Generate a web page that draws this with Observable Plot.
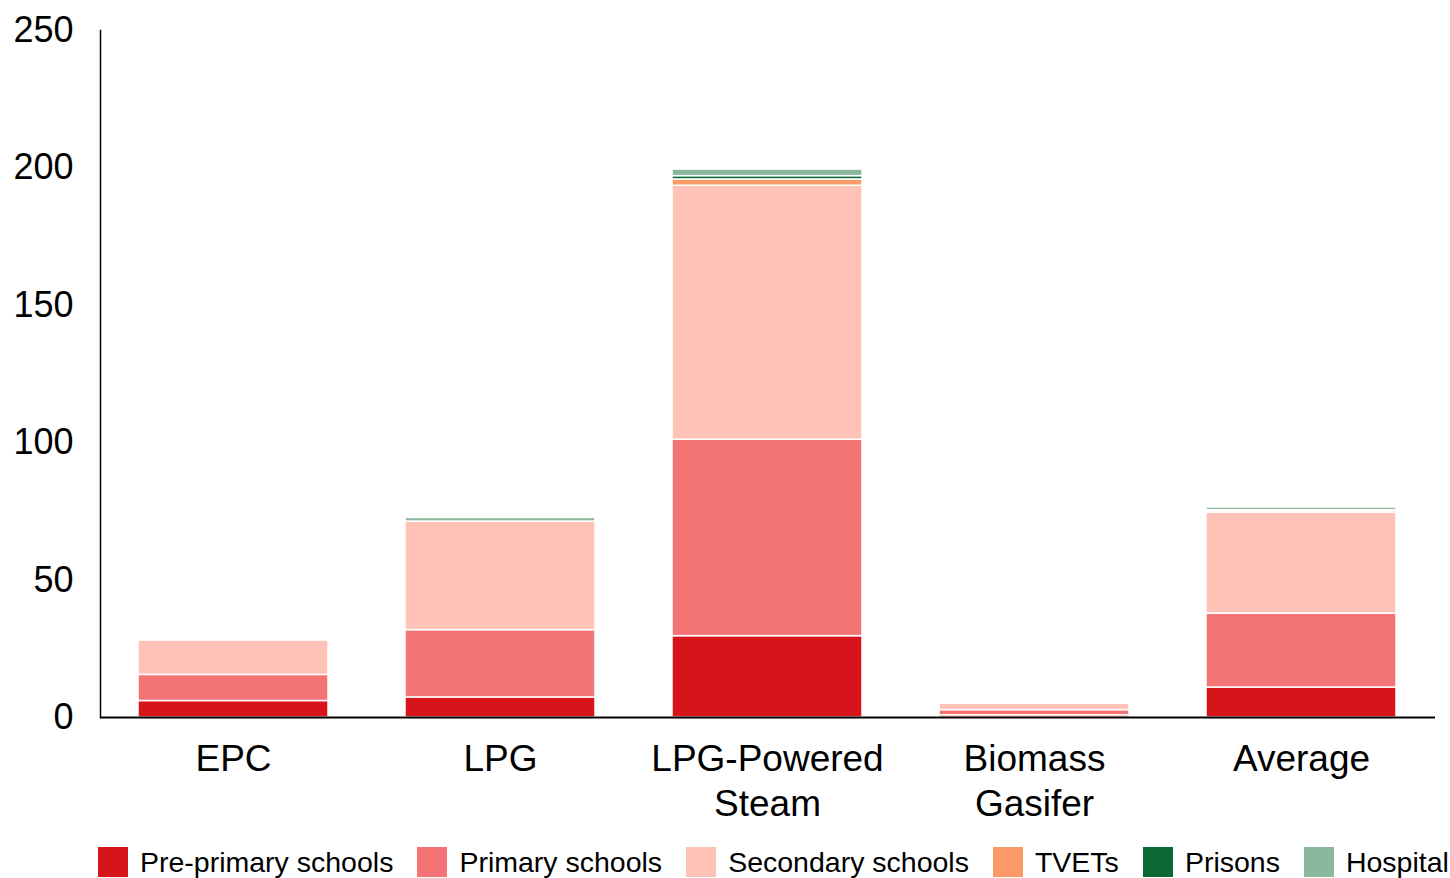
<!DOCTYPE html>
<html>
<head>
<meta charset="utf-8">
<script src="https://cdn.jsdelivr.net/npm/d3@7"></script>
<script src="https://cdn.jsdelivr.net/npm/@observablehq/plot@0.6"></script>
<style>
  html, body { margin: 0; padding: 0; background: #fff; }
  body { width: 1450px; height: 878px; overflow: hidden; font-family: "Liberation Sans", Arial, sans-serif; }
  #legend { display: flex; align-items: center; gap: 24px; padding-left: 98px; margin-top: 12px; height: 30px; }
  .item { display: flex; align-items: center; font-size: 28.5px; color: #000; white-space: nowrap; }
  .sw { width: 30px; height: 30px; margin-right: 12px; }
</style>
</head>
<body>
<div id="chart"></div>
<div id="legend"></div>
<script>
const categories = ["EPC", "LPG", "LPG-Powered Steam", "Biomass Gasifer", "Average"];
const categoryLabels = ["EPC", "LPG", "LPG-Powered\nSteam", "Biomass\nGasifer", "Average"];
const series = ["Pre-primary schools", "Primary schools", "Secondary schools", "TVETs", "Prisons", "Hospital"];
const colors = ["#D7141A", "#F47476", "#FEC2B6", "#FD9966", "#0A6835", "#8AB89D"];

const prePrimary = [6.0, 7.3, 29.6, 0.8, 10.9];
const primary    = [9.5, 24.5, 71.5, 1.9, 26.9];
const secondary  = [12.5, 39.5, 92.4, 2.3, 36.7];
const tvets      = [0, 0, 2.3, 0, 0.6];
const prisons    = [0, 0, 1.2, 0, 0.3];
const hospital   = [0, 1.3, 2.4, 0, 1.0];

const yTicks = [0, 50, 100, 150, 200, 250];

const seriesValues = [prePrimary, primary, secondary, tvets, prisons, hospital];
const data = [];
series.forEach((s, si) => {
  categories.forEach((c, ci) => {
    data.push({category: c, series: s, value: seriesValues[si][ci]});
  });
});

const labelOf = new Map(categories.map((c, i) => [c, categoryLabels[i]]));

const chart = Plot.plot({
  width: 1450,
  height: 835,
  marginLeft: 100,
  marginRight: 15,
  marginTop: 30,
  marginBottom: 118,
  style: {fontFamily: "Liberation Sans, Arial, sans-serif", color: "#000", background: "#fff"},
  x: {domain: categories, paddingInner: 0.288, paddingOuter: 0.144, label: null},
  y: {domain: [0, 250], label: null},
  color: {domain: series, range: colors},
  marks: [
    Plot.barY(data, Plot.stackY({order: series}, {
      x: "category", y: "value", fill: "series", stroke: "white", strokeWidth: 1.5
    })),
    Plot.axisY({ticks: yTicks, tickSize: 0, tickPadding: 27, fontSize: 36, label: null}),
    Plot.axisX({tickSize: 0, tickPadding: 21, fontSize: 37, lineHeight: 1.22,
      tickFormat: d => labelOf.get(d), label: null}),
    Plot.frame({anchor: "left", stroke: "black", strokeWidth: 1.5}),
    Plot.ruleY([0], {stroke: "black", strokeWidth: 2})
  ]
});
document.getElementById("chart").appendChild(chart);

const legend = document.getElementById("legend");
series.forEach((s, i) => {
  const item = document.createElement("div");
  item.className = "item";
  const sw = document.createElement("div");
  sw.className = "sw";
  sw.style.background = colors[i];
  const t = document.createElement("span");
  t.textContent = s;
  item.appendChild(sw);
  item.appendChild(t);
  legend.appendChild(item);
});
</script>
</body>
</html>
